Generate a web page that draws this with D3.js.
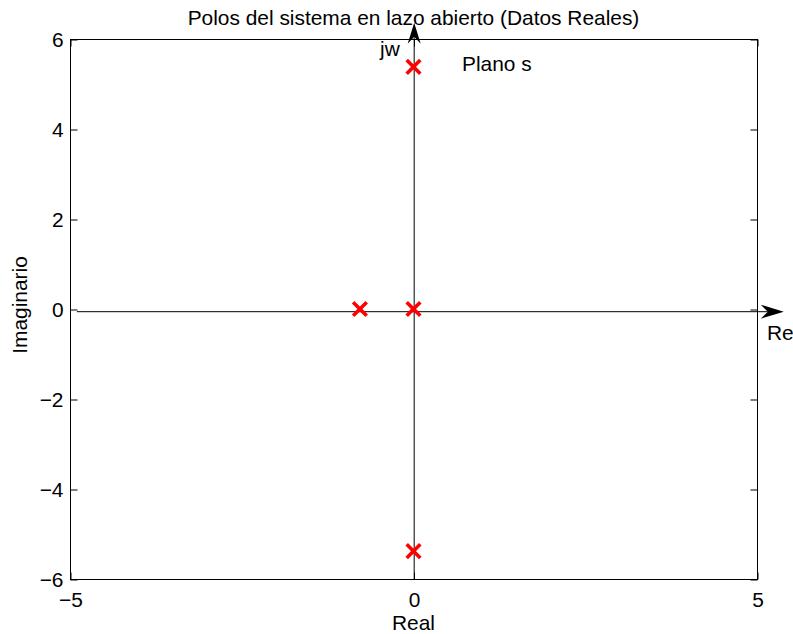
<!DOCTYPE html>
<html><head><meta charset="utf-8">
<script src="https://cdn.jsdelivr.net/npm/d3@7"></script>
<style>
html,body{margin:0;padding:0;background:#fff;}
svg{display:block;font-family:"Liberation Sans",Arial,Helvetica,sans-serif;}
</style></head>
<body>
<svg id="chart" width="793" height="634"></svg>
<script>
// Data
const poleReal = [-0.78, 0, 0, 0];
const poleImag = [0, 0, 5.38, -5.38];
const xTicks = [-5, 0, 5];
const yTicks = [-6, -4, -2, 0, 2, 4, 6];
const titleText = "Polos del sistema en lazo abierto (Datos Reales)";
const xLabelText = "Real";
const yLabelText = "Imaginario";

const svg = d3.select("#chart");
const W = 793, H = 634;
const m = {left: 70, right: 36, top: 39, bottom: 55};
const x = d3.scaleLinear().domain([-5, 5]).range([m.left, W - m.right]);
const y = d3.scaleLinear().domain([-6, 6]).range([H - m.bottom, m.top]);
const fs = 20.9;
const fmt = d => d < 0 ? "\u2212" + Math.abs(d) : String(d);

// Box
svg.append("rect").attr("x", x(-5) + 0.5).attr("y", y(6) + 0.5)
  .attr("width", x(5) - x(-5)).attr("height", y(-6) - y(6))
  .attr("fill", "none").attr("stroke", "#000").attr("stroke-width", 1);

const tl = 7;
const gB = svg.append("g").attr("transform", `translate(0.5,${y(-6) + 0.5})`)
  .call(d3.axisBottom(x).tickValues(xTicks).tickFormat(fmt).tickSizeInner(-tl).tickSizeOuter(0).tickPadding(13));
const gT = svg.append("g").attr("transform", `translate(0.5,${y(6) + 0.5})`)
  .call(d3.axisTop(x).tickValues(xTicks).tickFormat("").tickSizeInner(-tl).tickSizeOuter(0));
const gL = svg.append("g").attr("transform", `translate(${x(-5) + 0.5},0.5)`)
  .call(d3.axisLeft(y).tickValues(yTicks).tickFormat(fmt).tickSizeInner(-tl).tickSizeOuter(0).tickPadding(7));
const gR = svg.append("g").attr("transform", `translate(${x(5) + 0.5},0.5)`)
  .call(d3.axisRight(y).tickValues(yTicks).tickFormat("").tickSizeInner(-tl).tickSizeOuter(0));
[gB, gT, gL, gR].forEach(g => {
  g.select(".domain").remove();
  g.selectAll("line").attr("stroke", "#000");
  g.selectAll("text").attr("fill", "#000").style("font-size", fs + "px").style("font-family", "Liberation Sans, Arial, sans-serif");
});

// Axis arrows (annotations)
const hy = y(-0.06);
const vx = x(0.01);
svg.append("line").attr("x1", x(-4.9)).attr("y1", hy).attr("x2", x(5.39) - 16).attr("y2", hy)
  .attr("stroke", "#000").attr("stroke-width", 1);
svg.append("line").attr("x1", vx).attr("y1", y(-6)).attr("x2", vx).attr("y2", y(6.36) + 14)
  .attr("stroke", "#000").attr("stroke-width", 1);

function arrowHead(tipX, tipY, dx, dy, len, hw, notch) {
  const px = -dy, py = dx;
  const bx = tipX - dx * len, by = tipY - dy * len;
  const nx = tipX - dx * (len - notch), ny = tipY - dy * (len - notch);
  return `M${tipX},${tipY}L${bx + px * hw},${by + py * hw}L${nx},${ny}L${bx - px * hw},${by - py * hw}Z`;
}
svg.append("path").attr("d", arrowHead(x(5.39), hy, 1, 0, 23, 7, 7)).attr("fill", "#000");
svg.append("path").attr("d", arrowHead(vx, y(6.36), 0, -1, 21, 6.5, 7)).attr("fill", "#000");

// Poles (x markers)
const s = 6.8;
const pts = poleReal.map((r, i) => ({re: r, im: poleImag[i]}));
svg.append("g").selectAll("path").data(pts).join("path")
  .attr("d", d => {
    const cx = x(d.re), cy = y(d.im);
    return `M${cx - s},${cy - s}L${cx + s},${cy + s}M${cx - s},${cy + s}L${cx + s},${cy - s}`;
  })
  .attr("stroke", "#ff0000").attr("stroke-width", 3.6).attr("fill", "none");

// Texts
const txt = (t, xx, yy, anchor) => svg.append("text").attr("x", xx).attr("y", yy)
  .attr("text-anchor", anchor || "start").style("font-size", fs + "px").attr("fill", "#000").text(t);
txt(titleText, x(0), 25, "middle");
txt(xLabelText, x(0), 630, "middle");
svg.append("text").attr("transform", `translate(27,${y(0) - 4}) rotate(-90)`)
  .attr("text-anchor", "middle").style("font-size", fs + "px").attr("fill", "#000").text(yLabelText);
txt("jw", 380, 56);
txt("Plano s", 462, 71);
txt("Re", 767, 340);
</script>
</body></html>
